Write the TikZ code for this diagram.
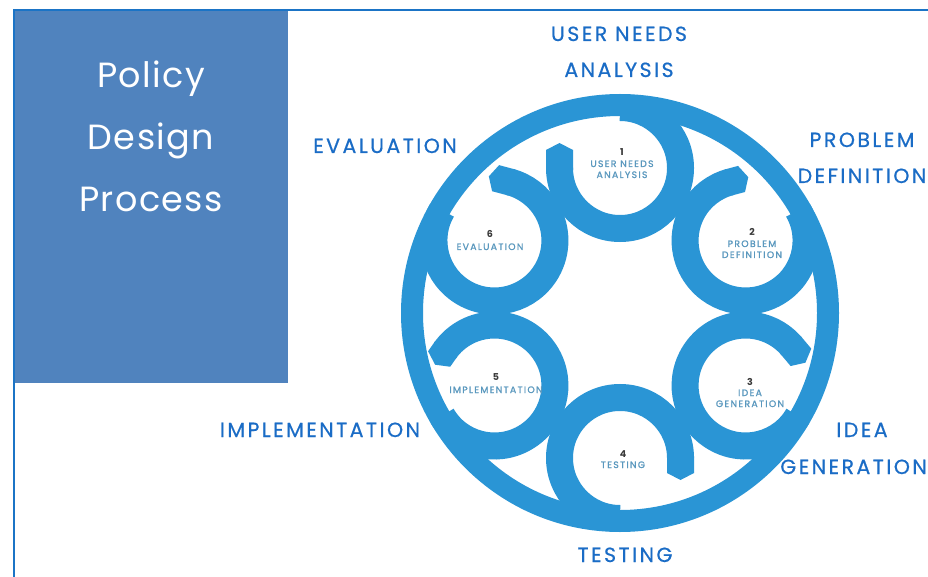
\documentclass[tikz,border=0pt]{standalone}
\usepackage{fontspec}
\setmainfont{Poppins}
\newfontfamily\lblfont[LetterSpace=12, FakeBold=0.6]{Poppins}
\newfontfamily\titlefont[LetterSpace=4]{Poppins}
\newfontfamily\innerfont[LetterSpace=14, FakeBold=1.2]{Poppins}
\usetikzlibrary{calc}
\definecolor{ringblue}{HTML}{2A95D5}
\definecolor{frameblue}{HTML}{1B74C6}
\definecolor{panelblue}{HTML}{5083BE}
\definecolor{lblblue}{HTML}{1A6CC6}
\definecolor{innerblue}{HTML}{5A98BE}
\definecolor{numgray}{HTML}{3A3A3A}
% #1 direction of hook centre, #2 start angle, #3 end angle, #4 sense (+1/-1), #5 tail length
\newcommand\hookpart[5]{%
  \coordinate (hc) at ($(O)+(#1:145)$);
  \draw[hookline] ($(hc)+(#2:60.5)$) arc[start angle=#2, end angle=#3, radius=60.5];
  \fill[ringblue] ($(hc)+(#3:74)+({#3+#4*90}:-2)$) -- ($(hc)+(#3:74)+({#3+#4*90}:{#5})$)
    -- ($(hc)+(#3:60.5)+({#3+#4*90}:{#5+7})$)
    -- ($(hc)+(#3:47)+({#3+#4*90}:{#5})$) -- ($(hc)+(#3:47)+({#3+#4*90}:-2)$) -- cycle;
}
\begin{document}
\begin{tikzpicture}[x=1pt,y=1pt,
  hookline/.style={draw=ringblue, line width=27},
  bigring/.style={draw=ringblue, line width=22},
  titletext/.style={text=white, font=\titlefont\fontsize{35}{35}\selectfont, anchor=base, inner sep=0},
  outerlbl/.style={text=lblblue, font=\lblfont\fontsize{20.5}{20.5}\selectfont, anchor=base, inner sep=0},
  numlbl/.style={text=numgray, font=\fontsize{9.5}{9.5}\selectfont\bfseries, anchor=base, inner sep=0},
  innerlbl/.style={text=innerblue, font=\innerfont\fontsize{9.3}{9.3}\selectfont, anchor=base, inner sep=0}]
\useasboundingbox (0,-577) rectangle (928,0);
\fill[white] (0,-577) rectangle (928,0);
% panel and frame
\fill[panelblue] (15,-10) rectangle (288,-383);
\draw[frameblue, line width=2.2] (14,-577) -- (14,-10) -- (928,-10);
\node[titletext] (t1) at (151,-88) {Policy};
\node[titletext] (t2) at (151,-150) {Design};
\node[titletext] (t3) at (151,-212) {Process};
% big ring
\coordinate (O) at (620,-313);
\draw[bigring] (O) circle[radius=208];
% hooks
\hookpart{90}{90}{-180}{-1}{18}
\hookpart{30}{30}{-255}{-1}{12}
\hookpart{330}{330}{40}{-1}{14}
\hookpart{270}{270}{0}{-1}{15}
\hookpart{210}{210}{505}{1}{10}
\hookpart{150}{150}{435}{1}{15}
% inner labels
\node[numlbl] (n1) at (622,-156) {1};
\node[innerlbl] (i1a) at (622,-167) {USER NEEDS};
\node[innerlbl] (i1b) at (622,-178) {ANALYSIS};
\node[numlbl] (n2) at (752,-236) {2};
\node[innerlbl] (i2a) at (752,-247) {PROBLEM};
\node[innerlbl] (i2b) at (752,-258) {DEFINITION};
\node[numlbl] (n3) at (750,-385) {3};
\node[innerlbl] (i3a) at (750,-396) {IDEA};
\node[innerlbl] (i3b) at (750,-407) {GENERATION};
\node[numlbl] (n4) at (623,-457) {4};
\node[innerlbl] (i4a) at (623,-468) {TESTING};
\node[numlbl] (n5) at (496,-380) {5};
\node[innerlbl] (i5a) at (496,-393) {IMPLEMENTATION};
\node[numlbl] (n6) at (490,-238) {6};
\node[innerlbl] (i6a) at (490,-250) {EVALUATION};
% outer labels
\node[outerlbl] (o1a) at (619,-41) {USER NEEDS};
\node[outerlbl] (o1b) at (619,-77) {ANALYSIS};
\node[outerlbl] (o2a) at (862,-147) {PROBLEM};
\node[outerlbl] (o2b) at (862,-183) {DEFINITION};
\node[outerlbl] (o3a) at (862,-437) {IDEA};
\node[outerlbl, anchor=base east] (o3b) at (927,-474) {GENERATION};
\node[outerlbl] (o4) at (625,-562) {TESTING};
\node[outerlbl] (o5) at (320,-437) {IMPLEMENTATION};
\node[outerlbl] (o6) at (385,-153) {EVALUATION};
\end{tikzpicture}
\end{document}
